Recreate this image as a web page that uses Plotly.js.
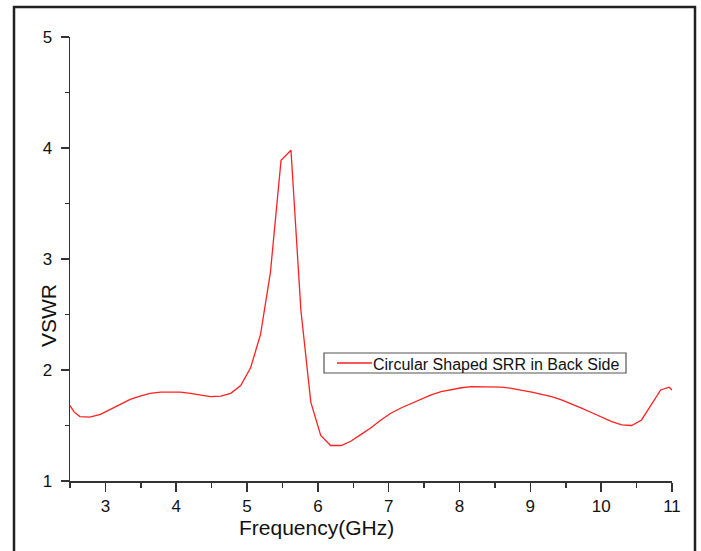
<!DOCTYPE html>
<html>
<head>
<meta charset="utf-8">
<script src="https://cdn.plot.ly/plotly-3.0.1.min.js"></script>
<style>
html,body{margin:0;padding:0;background:#fff;}
#chart{width:701px;height:551px;}
</style>
</head>
<body>
<div id="chart"></div>
<script>
// Frequency (GHz)
const freq = [2.5, 2.56, 2.64, 2.78, 2.93, 3.07, 3.21, 3.35, 3.49, 3.63, 3.78, 3.92, 4.06, 4.2, 4.34, 4.48, 4.63, 4.77, 4.91, 5.05, 5.19, 5.33, 5.48, 5.62, 5.76, 5.9, 6.04, 6.18, 6.33, 6.47, 6.61, 6.75, 6.89, 7.03, 7.18, 7.32, 7.46, 7.6, 7.74, 7.88, 8.03, 8.17, 8.31, 8.45, 8.59, 8.73, 8.88, 9.02, 9.16, 9.3, 9.44, 9.58, 9.73, 9.87, 10.01, 10.15, 10.29, 10.43, 10.57, 10.71, 10.84, 10.96, 11.0];
// VSWR values
const vswr = [1.68, 1.62, 1.58, 1.575, 1.60, 1.645, 1.69, 1.735, 1.765, 1.79, 1.80, 1.80, 1.80, 1.79, 1.775, 1.76, 1.765, 1.79, 1.86, 2.02, 2.32, 2.88, 3.89, 3.98, 2.54, 1.71, 1.41, 1.32, 1.32, 1.36, 1.42, 1.48, 1.55, 1.61, 1.66, 1.70, 1.74, 1.775, 1.805, 1.825, 1.84, 1.85, 1.85, 1.85, 1.845, 1.835, 1.82, 1.80, 1.78, 1.76, 1.73, 1.695, 1.655, 1.615, 1.575, 1.535, 1.505, 1.50, 1.55, 1.69, 1.82, 1.845, 1.82];
const seriesName = "Circular Shaped SRR in Back Side";
const xTitle = "Frequency(GHz)";
const yTitle = "VSWR";

const FONT = "'Liberation Sans', Arial, sans-serif";
const LINE_COLOR = '#ff2020';

// pixel -> paper helpers (plot area: x 70..672, y 37..481)
const px = v => (v - 70) / 602;
const py = v => (481 - v) / 444;

const trace = {
  x: freq, y: vswr, type: 'scatter', mode: 'lines', name: seriesName,
  line: {color: LINE_COLOR, width: 1.3}, showlegend: false
};

const layout = {
  width: 701, height: 551,
  margin: {l: 70, r: 29, t: 37, b: 70, pad: 0},
  paper_bgcolor: '#fff', plot_bgcolor: '#fff',
  font: {family: FONT, color: '#111'},
  showlegend: false,
  xaxis: {
    range: [2.5, 11], tick0: 0, dtick: 1, showgrid: false, zeroline: false,
    showline: true, linecolor: '#333', linewidth: 1.5,
    ticks: 'outside', ticklen: 9, tickwidth: 1.5, tickcolor: '#333',
    tickfont: {family: FONT, size: 17, color: '#111'},
    minor: {dtick: 0.5, ticks: 'outside', ticklen: 5, tickwidth: 1.5, tickcolor: '#333', showgrid: false},
    mirror: false, fixedrange: true
  },
  yaxis: {
    range: [1, 5], tick0: 0, dtick: 1, showgrid: false, zeroline: false,
    showline: true, linecolor: '#333', linewidth: 1.5,
    ticks: 'outside', ticklen: 8, tickwidth: 1.5, tickcolor: '#333',
    ticklabelstandoff: 5,
    tickfont: {family: FONT, size: 17, color: '#111'},
    minor: {dtick: 0.5, ticks: 'outside', ticklen: 4, tickwidth: 1.5, tickcolor: '#333', showgrid: false},
    mirror: false, fixedrange: true
  },
  annotations: [
    {text: xTitle, xref: 'paper', yref: 'paper', x: px(316), y: py(527),
     xanchor: 'center', yanchor: 'middle', showarrow: false,
     font: {family: FONT, size: 21, color: '#111'}},
    {text: yTitle, xref: 'paper', yref: 'paper', x: px(48), y: py(316),
     xanchor: 'center', yanchor: 'middle', showarrow: false, textangle: -90,
     font: {family: FONT, size: 21, color: '#111'}},
    {text: seriesName, xref: 'paper', yref: 'paper', x: px(371), y: py(364),
     xanchor: 'left', yanchor: 'middle', showarrow: false,
     font: {family: FONT, size: 16, color: '#111'}}
  ],
  shapes: [
    {type: 'rect', xref: 'paper', yref: 'paper',
     x0: px(14), x1: px(695), y0: py(620), y1: py(7),
     line: {color: '#222', width: 2.5}, fillcolor: 'rgba(0,0,0,0)', layer: 'below'},
    {type: 'rect', xref: 'paper', yref: 'paper',
     x0: px(324), x1: px(626), y0: py(373), y1: py(353),
     line: {color: '#555', width: 1.2}, fillcolor: '#fff', layer: 'above'},
    {type: 'line', xref: 'paper', yref: 'paper',
     x0: px(337), x1: px(372), y0: py(363), y1: py(363),
     line: {color: LINE_COLOR, width: 1.3}, layer: 'above'}
  ]
};

Plotly.newPlot('chart', [trace], layout, {displayModeBar: false, staticPlot: true});
</script>
</body>
</html>
